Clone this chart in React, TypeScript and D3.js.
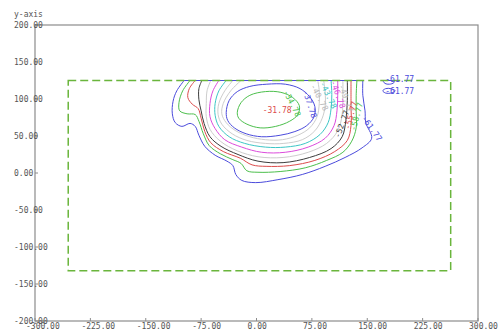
import React from "react";
import * as d3 from "d3";

const W = 499;
const H = 331;

// axis ticks
const xTicks = [-300, -225, -150, -75, 0, 75, 150, 225, 300];
const yTicks = [200, 150, 100, 50, 0, -50, -100, -150, -200];

// computational domain (dashed boundary)
const boundaryX = [-255, 263];
const boundaryY = [-132, 125];

// iso-lines, [x, y] in model units
const iso3478 = [[-26,82],[-21,95],[-9,105],[12,110],[33,109],[49,102],[58,91],[56,79],[45,70],[26,63],[5,61],[-13,66],[-24,74]];
const iso3778 = [[-41,82],[-37,98],[-26,110],[-9,117],[14,120],[39,120],[59,114],[72,103],[79,90],[78,76],[68,64],[52,56],[32,51],[7,49],[-14,53],[-30,61],[-39,71]];
const isoInner = [[-21,125],[-35,111],[-45,94],[-47,80],[-41,68],[-28,57],[-9,49],[12,45],[35,45],[56,51],[72,61],[82,76],[85,94],[85,111],[83,125]];
const iso4078 = [[-32,125],[-43,111],[-51,94],[-52,79],[-47,66],[-33,53],[-13,44],[12,40],[37,40],[62,45],[79,57],[89,74],[93,91],[93,109],[91,125]];
const iso4378 = [[-41,125],[-51,111],[-56,94],[-56,78],[-51,63],[-37,49],[-16,40],[12,35],[39,35],[66,40],[86,52],[97,68],[101,87],[102,106],[101,125]];
const iso4678 = [[-51,125],[-59,111],[-63,94],[-63,76],[-56,60],[-43,45],[-20,35],[7,28],[39,28],[70,35],[93,47],[105,64],[109,84],[110,105],[110,125]];
const iso4977 = [[-62,125],[-67,111],[-68,94],[-68,76],[-63,59],[-49,43],[-26,30],[2,22],[36,21],[70,28],[95,40],[110,57],[116,79],[117,103],[117,125]];
const iso5277 = [[-74,125],[-78,114],[-78,99],[-75,84],[-71,67],[-63,49],[-48,36],[-25,25],[2,16],[36,14],[72,21],[101,33],[116,49],[121,71],[123,98],[123,125]];
const iso5577 = [[-83,125],[-91,114],[-93,102],[-87,93],[-79,87],[-75,74],[-70,56],[-62,41],[-45,29],[-22,20],[-6,11],[13,9],[45,10],[79,17],[106,29],[123,44],[128,64],[128,91],[128,125]];
const iso5877 = [[-90,125],[-100,111],[-105,95],[-104,84],[-94,80],[-83,79],[-78,70],[-72,53],[-64,37],[-49,26],[-32,18],[-21,13],[-13,3],[2,1],[32,2],[66,7],[95,17],[117,28],[129,43],[135,61],[135,84],[135,105],[136,125]];
const iso6177 = [[-98,125],[-108,111],[-113,97],[-114,80],[-110,68],[-101,63],[-90,67],[-83,63],[-78,51],[-70,36],[-56,24],[-40,16],[-32,10],[-28,-2],[-20,-10],[-1,-13],[29,-9],[62,-2],[93,9],[120,21],[143,34],[156,47],[148,68],[147,84],[144,105],[144,125]];
const iso6177Edge = [[171,125],[174,121],[180,120],[186,122],[187,125]];
const iso6177Islet = [[171,111],[175,114],[182,114],[188,111],[182,108],[175,108]];

type Iso = { pts: number[][]; color: string; shape: "open" | "loop" | "sealed" };

const C = {
  blue: "#4b4bdc",
  green: "#4cbf4c",
  red: "#dc4b4b",
  black: "#3c3c3c",
  gray: "#cdcdcd",
  magenta: "#dc4bdc",
  cyan: "#3cc6c6",
};

const isolines: Iso[] = [
  { pts: iso3478, color: C.green, shape: "loop" },
  { pts: iso3778, color: C.blue, shape: "loop" },
  { pts: isoInner, color: C.gray, shape: "open" },
  { pts: iso4078, color: C.gray, shape: "open" },
  { pts: iso4378, color: C.cyan, shape: "open" },
  { pts: iso4678, color: C.magenta, shape: "open" },
  { pts: iso4977, color: C.gray, shape: "open" },
  { pts: iso5277, color: C.black, shape: "open" },
  { pts: iso5577, color: C.red, shape: "open" },
  { pts: iso5877, color: C.green, shape: "open" },
  { pts: iso6177, color: C.blue, shape: "sealed" },
  { pts: iso6177Edge, color: C.blue, shape: "sealed" },
  { pts: iso6177Islet, color: C.blue, shape: "loop" },
];

// level labels: value, anchor [x, y] in model units, rotation in degrees
const labelValues = [-31.78, -34.78, -37.78, -40.78, -43.78, -46.78, -49.77, -52.77, -55.77, -58.77, -61.77, -61.77, -61.77];
const labelAnchors = [[28,84],[48,94],[72,93],[85,102],[97,105],[110,106],[121,101],[116,66],[128,78],[136,76],[156,60],[194,127],[194,110]];
const labelAngles = [0, 63, 72, 62, 65, 70, 70, -70, -75, -75, 55, 0, 0];
const labelColors = [C.red, C.green, C.blue, "#b8b8b8", C.cyan, C.magenta, "#b8b8b8", C.black, C.red, C.green, C.blue, C.blue, C.blue];

const FONT = "'DejaVu Sans Mono', monospace";
const TEXT = "#555";
const AXIS = "#8c8c8c";

export default function App() {
  const x = d3.scaleLinear().domain([-300, 300]).range([35, 478]);
  const y = d3.scaleLinear().domain([-200, 200]).range([321, 25]);

  const openLine = d3
    .line<number[]>()
    .x((d) => x(d[0]))
    .y((d) => y(d[1]))
    .curve(d3.curveCatmullRom.alpha(0.5));
  const closedLine = d3
    .line<number[]>()
    .x((d) => x(d[0]))
    .y((d) => y(d[1]))
    .curve(d3.curveCatmullRomClosed.alpha(0.5));

  const pathOf = (iso: Iso) => {
    if (iso.shape === "loop") return closedLine(iso.pts) || "";
    const d = openLine(iso.pts) || "";
    return iso.shape === "sealed" ? d + "Z" : d;
  };

  return (
    <div style={{ position: "fixed", left: 0, top: 0, width: W, height: H, background: "#fff" }}>
      <svg width={W} height={H} style={{ display: "block" }}>
        <rect x={0} y={0} width={W} height={H} fill="#fff" />
        <text x={14} y={17} fontFamily={FONT} fontSize={8} fill={TEXT}>
          y-axis
        </text>

        {/* frame */}
        <rect
          x={x(-300)}
          y={y(200)}
          width={x(300) - x(-300)}
          height={y(-200) - y(200)}
          fill="none"
          stroke={AXIS}
          strokeWidth={1.2}
        />

        {/* y axis ticks and labels */}
        {yTicks.map((t) => (
          <g key={"y" + t}>
            <line x1={x(-300)} x2={x(-300) + 3} y1={y(t)} y2={y(t)} stroke={AXIS} />
            <text
              x={14}
              y={y(t)}
              dominantBaseline="central"
              fontFamily={FONT}
              fontSize={8}
              fill={TEXT}
            >
              {t.toFixed(2)}
            </text>
          </g>
        ))}

        {/* x axis ticks and labels */}
        {xTicks.map((t) => (
          <g key={"x" + t}>
            <line x1={x(t)} x2={x(t)} y1={y(-200)} y2={y(-200) - 3} stroke={AXIS} />
            <text x={x(t) - 9} y={329} fontFamily={FONT} fontSize={8} fill={TEXT}>
              {t.toFixed(2)}
            </text>
          </g>
        ))}

        {/* iso-lines */}
        {isolines.map((iso, i) => (
          <path key={"iso" + i} d={pathOf(iso)} fill="none" stroke={iso.color} strokeWidth={1} />
        ))}

        {/* boundary */}
        <rect
          x={x(boundaryX[0])}
          y={y(boundaryY[1])}
          width={x(boundaryX[1]) - x(boundaryX[0])}
          height={y(boundaryY[0]) - y(boundaryY[1])}
          fill="none"
          stroke="#6ab53c"
          strokeWidth={1.5}
          strokeDasharray="8 4"
        />

        {/* level labels */}
        {labelValues.map((v, i) => {
          const px = x(labelAnchors[i][0]);
          const py = y(labelAnchors[i][1]);
          return (
            <text
              key={"lab" + i}
              x={px}
              y={py}
              transform={`rotate(${labelAngles[i]} ${px} ${py})`}
              textAnchor="middle"
              dominantBaseline="central"
              fontFamily={FONT}
              fontSize={8}
              fill={labelColors[i]}
            >
              {v.toFixed(2)}
            </text>
          );
        })}
      </svg>
    </div>
  );
}
